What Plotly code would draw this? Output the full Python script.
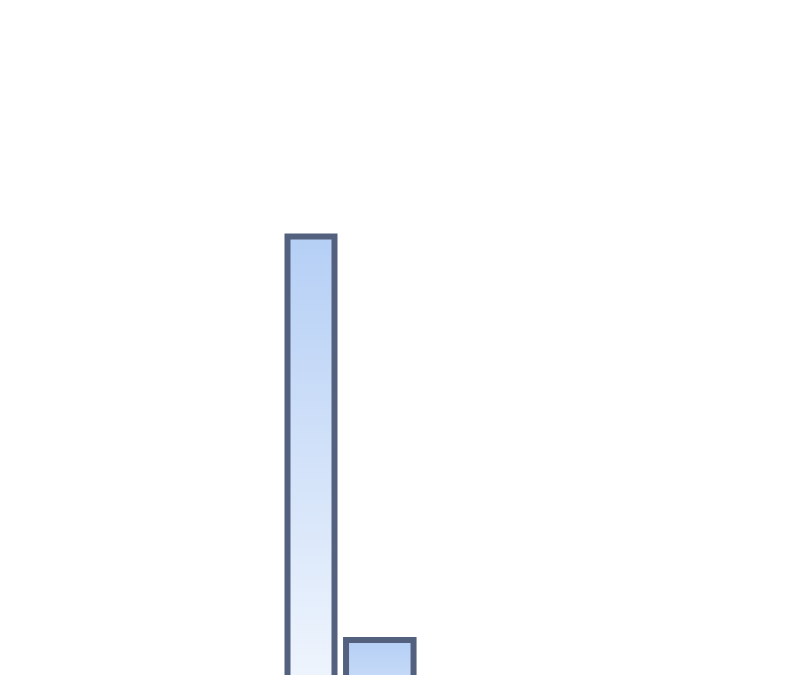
import plotly.graph_objects as go

# bar data (x centre, width, top value) - bottom of chart is cut off
bar_x = [31.1, 37.98]
bar_width = [4.7, 6.75]
bar_top = [43.85, 3.5]
bar_base = -13

fill_top = '#b5cff5'
fill_bottom = '#ffffff'
edge_color = '#53617f'

fig = go.Figure()

# gradient fill + thick outline, one filled shape per bar
for xc, w, top in zip(bar_x, bar_width, bar_top):
    x0, x1 = xc - w / 2, xc + w / 2
    fig.add_trace(go.Scatter(
        x=[x0, x1, x1, x0, x0],
        y=[bar_base, bar_base, top, top, bar_base],
        mode='lines',
        line=dict(width=6, color=edge_color),
        fill='toself',
        fillgradient=dict(type='vertical',
                          colorscale=[[0, fill_bottom], [1, fill_top]],
                          start=bar_base, stop=top),
        hoverinfo='skip',
        showlegend=False))

# page body has an 8px margin, so ranges are nudged to compensate
fig.update_layout(
    width=800, height=675,
    margin=dict(l=0, r=0, t=0, b=0),
    paper_bgcolor='white',
    plot_bgcolor='white',
    xaxis=dict(range=[0.8, 80.8], visible=False),
    yaxis=dict(range=[-0.8, 66.7], visible=False),
)

fig.write_html("out.html")
